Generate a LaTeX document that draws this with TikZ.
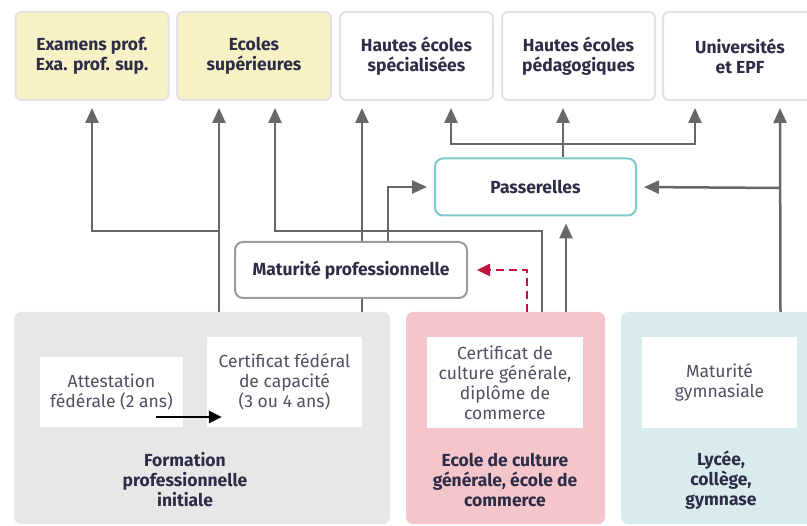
\documentclass[tikz,border=0pt]{standalone}
\usepackage{fontspec}
\setmainfont{Fira Sans}
\usepackage{tikz}
\usepackage{xcolor}
\usetikzlibrary{arrows.meta}
\definecolor{navy}{HTML}{2D2D48}
\definecolor{softtext}{HTML}{505062}
\definecolor{boxline}{HTML}{E2E2E2}
\definecolor{paleyellow}{HTML}{F7F2C6}
\definecolor{linkgray}{HTML}{676767}
\definecolor{mpgray}{HTML}{9B9B9B}
\definecolor{teal-line}{HTML}{7DCACB}
\definecolor{fpi-fill}{HTML}{E7E7E7}
\definecolor{ecg-fill}{HTML}{F4C6CC}
\definecolor{lyc-fill}{HTML}{D8ECEE}
\definecolor{dash-red}{HTML}{C2123F}
\tikzset{
    top-box/.style = {draw=boxline, fill=white, line width=2pt, rounded corners=6pt, minimum width=153pt, minimum height=88pt, align=center, text=navy, font=\fontsize{17.5}{20}\selectfont\bfseries},
    yellow-box/.style = {top-box, fill=paleyellow},
    mid-box/.style = {draw=mpgray, fill=white, line width=2pt, rounded corners=8pt, minimum height=56pt, text=navy, font=\fontsize{17.5}{20}\selectfont\bfseries},
    level-box/.style = {rounded corners=7pt, minimum width=199pt, minimum height=212pt},
    inner-box/.style = {fill=white, minimum width=155pt, minimum height=91pt, align=center, text=softtext, font=\fontsize{17.5}{20}\selectfont},
    level-title/.style = {align=center, text=navy, font=\fontsize{17.5}{20}\selectfont\bfseries},
    link/.style = {draw=linkgray, line width=2.5pt, shorten >=7pt, -{Triangle[length=15pt, width=13pt]}},
    plain-link/.style = {draw=linkgray, line width=2.5pt},
    dash-link/.style = {draw=dash-red, line width=2.5pt, dash pattern=on 8pt off 5pt, shorten >=9pt, -{Triangle[length=13pt, width=12pt]}},
}
\begin{document}
\begin{tikzpicture}[x=1pt, y=-1pt]
\clip (0,0) rectangle (807,526);
\fill[white] (0,0) rectangle (807,526);

\node[yellow-box] (exa) at (92,56) {Examens prof.\\Exa. prof. sup.};
\node[yellow-box, minimum width=154pt] (es) at (254,56) {Ecoles\\supérieures};
\node[top-box] (hes) at (416.5,56) {Hautes écoles\\spécialisées};
\node[top-box] (hep) at (578.5,56) {Hautes écoles\\pédagogiques};
\node[top-box, minimum width=154pt] (uni) at (740,56) {Universités\\et EPF};

\node[mid-box, minimum width=232pt] (mp) at (351,270) {Maturité professionnelle};
\node[mid-box, draw=teal-line, minimum width=201pt, minimum height=57pt] (pas) at (535.5,187) {Passerelles};

\node[level-box, fill=fpi-fill, minimum width=376pt] (fpi) at (202,418) {};
\node[level-box, fill=ecg-fill] (ecg) at (505.5,418) {};
\node[level-box, fill=lyc-fill] (lyc) at (720.5,418) {};

\node[inner-box, minimum width=143pt, minimum height=70pt] (af) at (111.5,392) {Attestation\\fédérale (2 ans)};
\node[inner-box, minimum height=90pt] (cfc) at (284.5,382) {Certificat fédéral\\de capacité\\(3 ou 4 ans)};
\node[inner-box, minimum width=156pt] (ccg) at (505,382.5) {Certificat de\\culture générale,\\diplôme de\\commerce};
\node[inner-box] (mg) at (719.5,382.5) {Maturité\\gymnasiale};

\node[level-title] (fpi-title) at (185,480) {Formation\\professionnelle\\initiale};
\node[level-title] (ecg-title) at (505,480) {Ecole de culture\\générale, école de\\commerce};
\node[level-title] (lyc-title) at (721,480) {Lycée,\\collège,\\gymnase};

\draw[line width=2.5pt, -{Triangle[length=13pt, width=12pt]}] ([shift={(-27pt,-25pt)}]af.east) -- ([shift={(15pt,-35pt)}]cfc.west);

\draw[link] ([xshift=17pt]fpi.north) -- ([xshift=-35pt]es.south);
\draw[link] ([xshift=-35pt, yshift=-130pt]es.south) -| (exa.south);
\draw[link] ([xshift=36.5pt]ecg.north) |- ([xshift=21pt, yshift=-130pt]es.south) -- ([xshift=21pt]es.south);
\draw[plain-link] ([xshift=160pt]fpi.north) -- ([xshift=11pt]mp.south);
\draw[link] ([xshift=11pt]mp.north) -- ([xshift=-54.5pt]hes.south);
\draw[link] ([xshift=37pt]mp.north) |- (pas.west);
\draw[link] ([xshift=27.5pt]pas.north) -- ([xshift=-15.5pt]hep.south);
\draw[link] ([xshift=-15.5pt, yshift=-43pt]hep.south) -| ([xshift=34.5pt]hes.south);
\draw[link] ([xshift=-15.5pt, yshift=-43pt]hep.south) -| ([xshift=-45pt]uni.south);
\draw[link] ([xshift=60pt]lyc.north) -- ([xshift=40pt]uni.south);
\draw[link] ([xshift=40pt, yshift=-87pt]uni.south) -- (pas.east);
\draw[link] ([xshift=60.5pt]ecg.north) -- ([xshift=30.5pt]pas.south);
\draw[dash-link] ([xshift=21.5pt]ecg.north) |- (mp.east);
\end{tikzpicture}
\end{document}
